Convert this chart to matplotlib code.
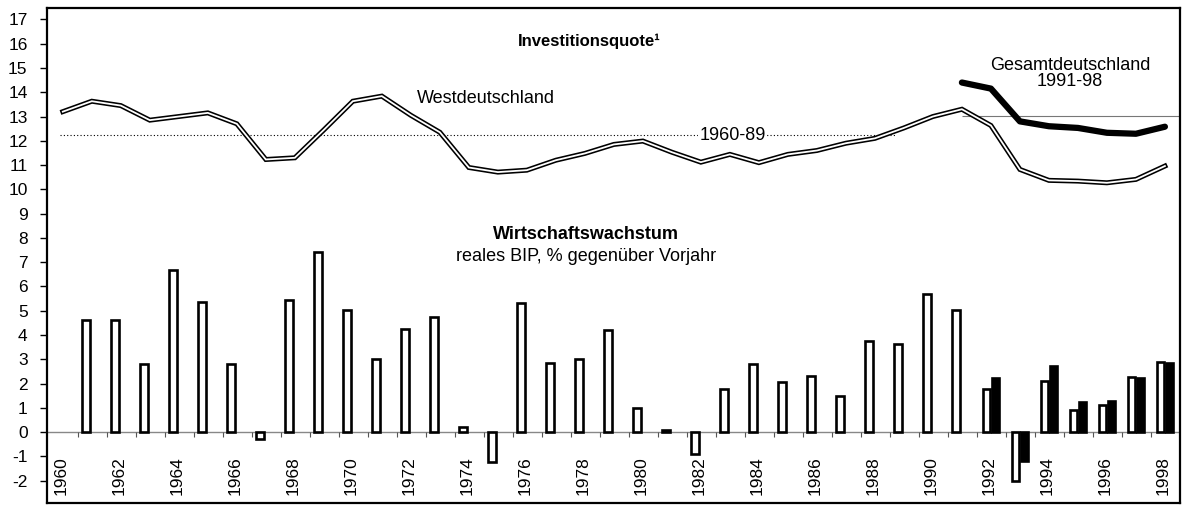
import numpy as np
import matplotlib.pyplot as plt

plt.rcParams['font.family'] = ['Liberation Sans', 'DejaVu Sans']
plt.rcParams['axes.unicode_minus'] = False

# --- data ---
years = np.arange(1960, 1999)
west_quote = [13.2, 13.63, 13.45, 12.85, 13.0, 13.15, 12.7, 11.23, 11.3, 12.45,
              13.63, 13.84, 13.05, 12.35, 10.9, 10.71, 10.79, 11.2, 11.48, 11.85,
              11.99, 11.53, 11.12, 11.44, 11.1, 11.44, 11.6, 11.9, 12.1, 12.53,
              13.0, 13.3, 12.63, 10.82, 10.37, 10.34, 10.27, 10.41, 10.96]

gesamt_years = np.arange(1991, 1999)
gesamt_quote = [14.4, 14.15, 12.8, 12.6, 12.53, 12.33, 12.29, 12.58]

avg_west = 12.22     # 1960-89
avg_gesamt = 13.02   # 1991-98

growth_years = np.arange(1961, 1999)
west_growth = [4.6, 4.6, 2.79, 6.67, 5.34, 2.79, -0.3, 5.43, 7.42, 5.02,
               3.03, 4.24, 4.75, 0.22, -1.25, 5.32, 2.83, 3.0, 4.2, 0.98,
               0.1, -0.9, 1.76, 2.8, 2.06, 2.33, 1.5, 3.74, 3.62, 5.7,
               5.02, 1.76, -2.0, 2.11, 0.9, 1.1, 2.26, 2.89]

gesamt_growth_years = np.arange(1992, 1999)
gesamt_growth = [2.24, -1.2, 2.73, 1.23, 1.29, 2.22, 2.85]

label_years = np.arange(1960, 1999, 2)

# --- figure ---
fig = plt.figure(figsize=(11.88, 5.05), dpi=100)
ax = fig.add_axes([47 / 1188, 2 / 505, 1133 / 1188, 495 / 505])
ax.set_xlim(1959.655, 1998.72)
ax.set_ylim(-2.92, 17.47)

# zero line and small ticks on it
ax.axhline(0, color='#888888', lw=1.0, zorder=1)
ax.vlines(years[:-1] + 0.71, -0.2, 0, color='#555555', lw=0.8, zorder=1)

# growth bars: single bars until 1991, pairs afterwards
growth_years_arr = np.array(growth_years, dtype=float)
offset = np.where(growth_years_arr >= 1992, 0.05, 0.0)
ax.bar(growth_years_arr + offset, west_growth, width=0.26, color='white',
       edgecolor='black', linewidth=1.9, zorder=3)
ax.bar(np.array(gesamt_growth_years) + 0.36, gesamt_growth, width=0.26,
       color='black', edgecolor='black', linewidth=1.9, zorder=3)

# average reference lines
ax.hlines(avg_west, 1960.1, 1988.9, color='black', lw=0.8,
          linestyles=(0, (1, 2)), zorder=2)
ax.hlines(avg_gesamt, 1991.2, 1998.72, color='#777777', lw=0.8, zorder=2)

# investment ratio lines
line_x = years + 0.2
ax.plot(line_x, west_quote, color='black', lw=3.6, solid_joinstyle='miter', zorder=4)
ax.plot(line_x, west_quote, color='white', lw=1.3, solid_joinstyle='miter', zorder=5)
ax.plot(gesamt_years + 0.2, gesamt_quote, color='black', lw=4.5,
        solid_capstyle='round', zorder=5)

# texts
ax.text(1978.34, 16.1, 'Investitionsquote¹', ha='center', va='center',
        fontsize=12, fontweight='bold')
ax.text(1972.41, 13.75, 'Westdeutschland', ha='left', va='center', fontsize=13)
ax.text(1983.3, 12.2, '1960-89', ha='center', va='center', fontsize=13,
        bbox=dict(facecolor='white', edgecolor='none', pad=1), zorder=3)
ax.text(1994.93, 14.78, 'Gesamtdeutschland\n1991-98', ha='center', va='center',
        fontsize=13, linespacing=0.88)
ax.text(1978.24, 8.15, 'Wirtschaftswachstum', ha='center', va='center',
        fontsize=13, fontweight='bold')
ax.text(1978.24, 7.24, 'reales BIP, % gegenüber Vorjahr', ha='center',
        va='center', fontsize=13)

for yr in label_years:
    ax.text(yr + 0.15, -1.78, str(yr), rotation=90, ha='center', va='center',
            fontsize=12.5)

# axes styling
ax.set_xticks([])
ax.set_yticks(range(-2, 18))
ax.tick_params(axis='y', direction='out', length=5, width=1, pad=9, labelsize=12.5)
for s in ax.spines.values():
    s.set_linewidth(1.6)

fig.savefig('out.png', dpi=100)
